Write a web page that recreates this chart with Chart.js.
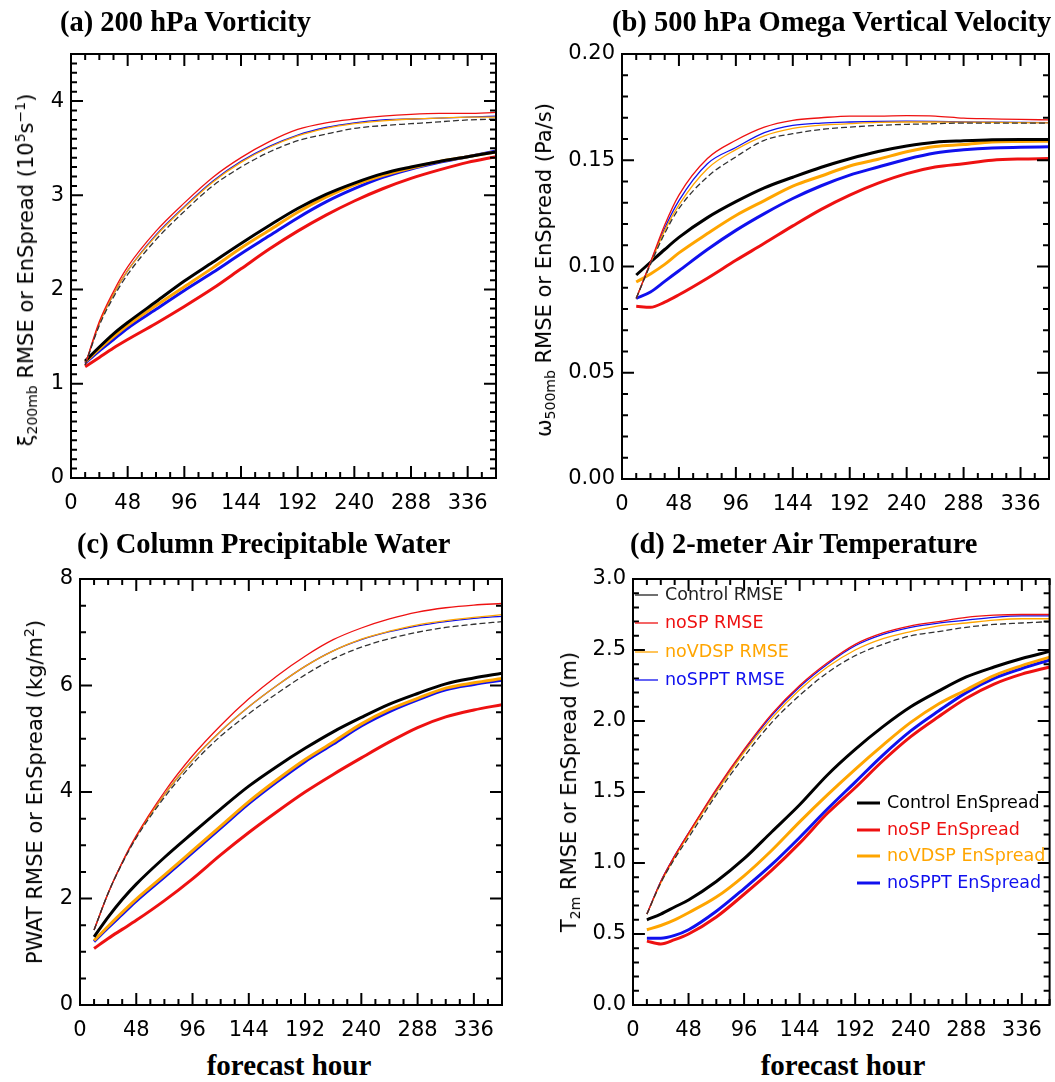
<!DOCTYPE html>
<html>
<head>
<meta charset="utf-8">
<script src="https://cdn.jsdelivr.net/npm/chart.js@4.4.1/dist/chart.umd.min.js"></script>
<style>
  body { margin: 0; background: #fff; width: 1055px; height: 1082px; position: relative; overflow: hidden; }
  canvas { position: absolute; }
  .ptitle { position: absolute; font: bold 28.5px "Liberation Serif", "Times New Roman", serif; line-height: 32px; white-space: nowrap; color: #000; }
  .xtitle { position: absolute; font: bold 29px "Liberation Serif", "Times New Roman", serif; line-height: 32px; white-space: nowrap; transform: translateX(-50%); }
  .ytitle { position: absolute; font: 21px "DejaVu Sans", sans-serif; line-height: 24px; white-space: nowrap; transform: translate(-50%, -50%) rotate(-90deg); }
  .ytitle sub { font-size: 14px; vertical-align: -4px; line-height: 0; }
  .ytitle sup { font-size: 14px; vertical-align: 8px; line-height: 0; }
</style>
</head>
<body>
<script>
// ---- shared axes ----
const hours = [12, 24, 36, 48, 72, 96, 120, 144, 168, 192, 216, 240, 264, 288, 312, 336, 360];
const hourTicks = [0, 48, 96, 144, 192, 240, 288, 336];
const runNames = ['Control', 'noSP', 'noVDSP', 'noSPPT'];
const runColors = ['#000000', '#ee1111', '#ffa500', '#1010ee'];

// ---- (a) 200 hPa vorticity ----
const vortTicks = [0, 1, 2, 3, 4];
const vortRmseControl = [1.20, 1.62, 1.92, 2.16, 2.53, 2.83, 3.10, 3.30, 3.46, 3.58, 3.65, 3.71, 3.74, 3.76, 3.78, 3.80, 3.81];
const vortRmseNoSP    = [1.20, 1.66, 1.98, 2.24, 2.62, 2.92, 3.19, 3.40, 3.57, 3.70, 3.77, 3.81, 3.84, 3.86, 3.87, 3.87, 3.88];
const vortRmseNoVDSP  = [1.20, 1.64, 1.95, 2.20, 2.57, 2.87, 3.14, 3.35, 3.51, 3.63, 3.71, 3.76, 3.79, 3.81, 3.82, 3.83, 3.83];
const vortRmseNoSPPT  = [1.20, 1.64, 1.95, 2.20, 2.58, 2.88, 3.15, 3.36, 3.52, 3.64, 3.72, 3.77, 3.80, 3.81, 3.82, 3.83, 3.84];
const vortSprControl  = [1.24, 1.39, 1.53, 1.65, 1.87, 2.09, 2.29, 2.49, 2.68, 2.86, 3.01, 3.13, 3.23, 3.30, 3.36, 3.41, 3.46];
const vortSprNoSP     = [1.18, 1.28, 1.38, 1.47, 1.64, 1.82, 2.01, 2.22, 2.43, 2.62, 2.79, 2.94, 3.07, 3.18, 3.27, 3.35, 3.41];
const vortSprNoVDSP   = [1.23, 1.37, 1.50, 1.62, 1.83, 2.03, 2.23, 2.44, 2.63, 2.82, 2.98, 3.11, 3.21, 3.29, 3.36, 3.41, 3.46];
const vortSprNoSPPT   = [1.22, 1.35, 1.47, 1.59, 1.79, 1.99, 2.18, 2.38, 2.57, 2.76, 2.93, 3.07, 3.19, 3.28, 3.35, 3.41, 3.47];

// ---- (b) 500 hPa omega ----
const omegaTicks = [0, 0.05, 0.10, 0.15, 0.20];
const omegaRmseControl = [0.085, 0.101, 0.1156, 0.1273, 0.1422, 0.1516, 0.1594, 0.1625, 0.1645, 0.1656, 0.1664, 0.1669, 0.1672, 0.1675, 0.1675, 0.1675, 0.1675];
const omegaRmseNoSP    = [0.085, 0.102, 0.1195, 0.1336, 0.1508, 0.1594, 0.1656, 0.1688, 0.1700, 0.1708, 0.1708, 0.1710, 0.1708, 0.1698, 0.1695, 0.1692, 0.1690];
const omegaRmseNoVDSP  = [0.085, 0.1015, 0.117, 0.129, 0.146, 0.155, 0.1615, 0.165, 0.1665, 0.1672, 0.1678, 0.1680, 0.1680, 0.1679, 0.1678, 0.1677, 0.1676];
const omegaRmseNoSPPT  = [0.085, 0.1018, 0.118, 0.131, 0.1484, 0.156, 0.163, 0.1664, 0.1675, 0.1680, 0.1683, 0.1684, 0.1683, 0.1680, 0.1679, 0.1678, 0.1677];
const omegaSprControl  = [0.096, 0.102, 0.108, 0.1137, 0.123, 0.1305, 0.137, 0.142, 0.1467, 0.1507, 0.1541, 0.1567, 0.1585, 0.1592, 0.1597, 0.1598, 0.1598];
const omegaSprNoSP     = [0.0813, 0.0808, 0.0832, 0.0867, 0.0945, 0.1029, 0.1109, 0.1191, 0.1269, 0.1336, 0.1392, 0.1437, 0.1468, 0.1484, 0.1500, 0.1506, 0.1508];
const omegaSprNoVDSP   = [0.0927, 0.0965, 0.101, 0.1064, 0.1155, 0.124, 0.131, 0.1378, 0.1426, 0.1473, 0.1505, 0.1540, 0.1565, 0.1574, 0.1586, 0.1588, 0.1590];
const omegaSprNoSPPT   = [0.085, 0.088, 0.093, 0.098, 0.108, 0.117, 0.1249, 0.132, 0.138, 0.143, 0.1468, 0.1505, 0.1534, 0.1549, 0.1558, 0.1561, 0.1563];

// ---- (c) column precipitable water ----
const pwatTicks = [0, 2, 4, 6, 8];
const pwatRmseControl = [1.41, 2.10, 2.66, 3.14, 3.90, 4.53, 5.05, 5.47, 5.85, 6.20, 6.50, 6.72, 6.88, 7.00, 7.09, 7.15, 7.20];
const pwatRmseNoSP    = [1.41, 2.10, 2.68, 3.18, 4.00, 4.68, 5.25, 5.75, 6.18, 6.55, 6.86, 7.08, 7.25, 7.38, 7.46, 7.51, 7.54];
const pwatRmseNoVDSP  = [1.41, 2.10, 2.67, 3.16, 3.95, 4.60, 5.14, 5.60, 6.00, 6.36, 6.65, 6.87, 7.02, 7.14, 7.22, 7.28, 7.33];
const pwatRmseNoSPPT  = [1.41, 2.10, 2.67, 3.16, 3.95, 4.60, 5.14, 5.60, 6.00, 6.36, 6.65, 6.86, 7.01, 7.12, 7.20, 7.26, 7.30];
const pwatSprControl  = [1.28, 1.65, 1.98, 2.27, 2.77, 3.23, 3.68, 4.11, 4.48, 4.82, 5.13, 5.40, 5.65, 5.85, 6.03, 6.14, 6.23];
const pwatSprNoSP     = [1.06, 1.25, 1.42, 1.59, 1.96, 2.37, 2.82, 3.24, 3.63, 4.00, 4.33, 4.64, 4.94, 5.21, 5.41, 5.54, 5.64];
const pwatSprNoVDSP   = [1.21, 1.48, 1.74, 1.99, 2.44, 2.90, 3.36, 3.82, 4.23, 4.61, 4.94, 5.28, 5.55, 5.76, 5.95, 6.05, 6.13];
const pwatSprNoSPPT   = [1.19, 1.45, 1.70, 1.95, 2.40, 2.86, 3.32, 3.78, 4.19, 4.57, 4.90, 5.24, 5.51, 5.73, 5.92, 6.02, 6.10];

// ---- (d) 2-meter air temperature ----
const t2mTicks = [0, 0.5, 1.0, 1.5, 2.0, 2.5, 3.0];
const t2mRmseControl = [0.64, 0.86, 1.03, 1.18, 1.48, 1.75, 1.99, 2.18, 2.34, 2.46, 2.54, 2.60, 2.63, 2.66, 2.68, 2.69, 2.70];
const t2mRmseNoSP    = [0.64, 0.87, 1.05, 1.21, 1.52, 1.80, 2.05, 2.25, 2.41, 2.54, 2.62, 2.67, 2.70, 2.73, 2.745, 2.75, 2.75];
const t2mRmseNoVDSP  = [0.64, 0.86, 1.04, 1.20, 1.50, 1.78, 2.02, 2.22, 2.38, 2.50, 2.58, 2.63, 2.67, 2.69, 2.71, 2.72, 2.72];
const t2mRmseNoSPPT  = [0.64, 0.87, 1.05, 1.21, 1.51, 1.79, 2.04, 2.24, 2.40, 2.53, 2.61, 2.66, 2.69, 2.71, 2.73, 2.74, 2.74];
const t2mSprControl  = [0.60, 0.64, 0.69, 0.74, 0.87, 1.03, 1.22, 1.41, 1.62, 1.80, 1.96, 2.10, 2.21, 2.31, 2.38, 2.44, 2.49];
const t2mSprNoSP     = [0.45, 0.43, 0.46, 0.50, 0.62, 0.78, 0.95, 1.14, 1.35, 1.53, 1.72, 1.89, 2.03, 2.16, 2.26, 2.33, 2.38];
const t2mSprNoVDSP   = [0.53, 0.56, 0.60, 0.65, 0.76, 0.91, 1.09, 1.29, 1.48, 1.66, 1.83, 1.99, 2.12, 2.22, 2.32, 2.39, 2.45];
const t2mSprNoSPPT   = [0.47, 0.47, 0.49, 0.53, 0.66, 0.82, 0.99, 1.18, 1.38, 1.57, 1.76, 1.93, 2.07, 2.20, 2.30, 2.37, 2.43];

// ---- layout of the four panels (page pixels) ----
const PANELS = [
  { box: { x: 0,   y: 30,  w: 525, h: 515 }, area: { left: 71,  top: 54,  right: 496,  bottom: 478 },
    yMax: 4.5, yTicks: vortTicks, yMinor: 0.1, yMajor: 1, yDec: 0,
    rmse: [vortRmseControl, vortRmseNoSP, vortRmseNoVDSP, vortRmseNoSPPT],
    spread: [vortSprControl, vortSprNoSP, vortSprNoVDSP, vortSprNoSPPT] },
  { box: { x: 530, y: 30,  w: 525, h: 515 }, area: { left: 622, top: 54,  right: 1049, bottom: 479 },
    yMax: 0.20, yTicks: omegaTicks, yMinor: 0.01, yMajor: 0.05, yDec: 2,
    rmse: [omegaRmseControl, omegaRmseNoSP, omegaRmseNoVDSP, omegaRmseNoSPPT],
    spread: [omegaSprControl, omegaSprNoSP, omegaSprNoVDSP, omegaSprNoSPPT] },
  { box: { x: 0,   y: 555, w: 525, h: 490 }, area: { left: 80,  top: 579, right: 502,  bottom: 1005 },
    yMax: 8, yTicks: pwatTicks, yMinor: 0.5, yMajor: 2, yDec: 0,
    rmse: [pwatRmseControl, pwatRmseNoSP, pwatRmseNoVDSP, pwatRmseNoSPPT],
    spread: [pwatSprControl, pwatSprNoSP, pwatSprNoVDSP, pwatSprNoSPPT] },
  { box: { x: 530, y: 555, w: 525, h: 490 }, area: { left: 633, top: 579, right: 1053, bottom: 1005 },
    yMax: 3.0, yTicks: t2mTicks, yMinor: 0.1, yMajor: 0.5, yDec: 1,
    rmse: [t2mRmseControl, t2mRmseNoSP, t2mRmseNoVDSP, t2mRmseNoSPPT],
    spread: [t2mSprControl, t2mSprNoSP, t2mSprNoVDSP, t2mSprNoSPPT],
    legend: [ { left: 2,   top: 16,  gap: 28.3, items: [0, 1, 2, 3] },
              { left: 224, top: 224, gap: 26.7, items: [4, 5, 6, 7] } ] },
];

const X_MINOR = 12, X_MAJOR = 48, X_MAX = 360;
const TICK_MAJOR_PX = 12, TICK_MINOR_PX = 6;

// frame box around the plot area
function drawBox(chart) {
  const ctx = chart.ctx;
  const a = chart.chartArea;
  ctx.save();
  ctx.setLineDash([]);
  ctx.strokeStyle = '#000';
  ctx.lineWidth = 2;
  ctx.strokeRect(a.left, a.top, a.right - a.left, a.bottom - a.top);
  ctx.restore();
}

// in-panel legend, two groups, drawn from the datasets themselves
function drawLegend(chart, groups) {
  if (!groups) return;
  const ctx = chart.ctx;
  const a = chart.chartArea;
  ctx.save();
  ctx.font = '17.5px "DejaVu Sans", sans-serif';
  ctx.textBaseline = 'middle';
  ctx.setLineDash([]);
  groups.forEach(g => {
    g.items.forEach((di, k) => {
      const ds = chart.data.datasets[di];
      const yy = Math.round(a.top + g.top + k * g.gap);
      ctx.strokeStyle = ds.legendColor;
      ctx.lineWidth = ds.borderWidth;
      ctx.beginPath();
      ctx.moveTo(a.left + g.left, yy);
      ctx.lineTo(a.left + g.left + 23, yy);
      ctx.stroke();
      ctx.fillStyle = ds.legendColor;
      ctx.fillText(ds.label, a.left + g.left + 30, yy);
    });
  });
  ctx.restore();
}

// IDL-style inward ticks on all four sides, drawn by the library as short
// line segments on the panel's own scales (gaps split the segments)
function tickDatasets(p) {
  const H = p.area.bottom - p.area.top;
  const W = p.area.right - p.area.left;
  const xt = [];
  const nx = Math.round(X_MAX / X_MINOR);
  const perX = Math.round(X_MAJOR / X_MINOR);
  for (let i = 0; i <= nx; i++) {
    const v = i * X_MINOR;
    const dy = ((i % perX === 0) ? TICK_MAJOR_PX : TICK_MINOR_PX) / H * p.yMax;
    xt.push({ x: v, y: 0 }, { x: v, y: dy }, { x: v, y: null },
            { x: v, y: p.yMax }, { x: v, y: p.yMax - dy }, { x: v, y: null });
  }
  const yt = [];
  const ny = Math.round(p.yMax / p.yMinor);
  const perY = Math.round(p.yMajor / p.yMinor);
  for (let i = 0; i <= ny; i++) {
    const v = i * p.yMinor;
    const dx = ((i % perY === 0) ? TICK_MAJOR_PX : TICK_MINOR_PX) / W * X_MAX;
    yt.push({ x: 0, y: v }, { x: dx, y: v }, { x: dx, y: null },
            { x: X_MAX, y: v }, { x: X_MAX - dx, y: v }, { x: X_MAX - dx, y: null });
  }
  const style = {
    borderColor: '#000', borderWidth: 2, pointRadius: 0, spanGaps: false,
    cubicInterpolationMode: 'default', tension: 0, borderCapStyle: 'butt',
    clip: false, order: -1,
  };
  return [
    Object.assign({ label: 'x ticks', data: xt, isFrame: true }, style),
    Object.assign({ label: 'y ticks', data: yt, isFrame: true }, style),
  ];
}

function toPoints(vals) {
  return hours.map((h, i) => ({ x: h, y: vals[i] }));
}

function buildDatasets(p) {
  const rmse = p.rmse.map((vals, i) => ({
    label: runNames[i] + ' RMSE',
    data: toPoints(vals),
    borderColor: i === 0 ? '#333333' : runColors[i],
    legendColor: i === 0 ? '#222222' : runColors[i],
    borderWidth: 1.3,
    borderDash: i === 0 ? [6, 3] : [],
  }));
  const spread = p.spread.map((vals, i) => ({
    label: runNames[i] + ' EnSpread',
    data: toPoints(vals),
    borderColor: runColors[i],
    legendColor: runColors[i],
    borderWidth: 3,
  }));
  return rmse.concat(spread, tickDatasets(p));
}

function makePanel(p) {
  const cv = document.createElement('canvas');
  cv.width = p.box.w;
  cv.height = p.box.h;
  cv.style.left = p.box.x + 'px';
  cv.style.top = p.box.y + 'px';
  document.body.appendChild(cv);

  const tickFont = { family: '"DejaVu Sans", sans-serif', size: 21 };

  return new Chart(cv, {
    type: 'line',
    data: { datasets: buildDatasets(p) },
    options: {
      responsive: false,
      animation: false,
      devicePixelRatio: 1,
      layout: { padding: { left: 0, top: p.area.top - p.box.y, right: p.box.x + p.box.w - p.area.right, bottom: 0 } },
      elements: {
        point: { radius: 0 },
        line: { cubicInterpolationMode: 'monotone', fill: false },
      },
      plugins: { legend: { display: false }, tooltip: { enabled: false } },
      scales: {
        x: {
          type: 'linear', min: 0, max: X_MAX,
          grid: { display: false, drawTicks: false },
          border: { display: false },
          afterBuildTicks: s => { s.ticks = hourTicks.map(v => ({ value: v })); },
          afterFit: s => { s.height = p.box.y + p.box.h - p.area.bottom; },
          ticks: { font: tickFont, color: '#000', padding: 13, maxRotation: 0, autoSkip: false },
        },
        y: {
          type: 'linear', min: 0, max: p.yMax,
          grid: { display: false, drawTicks: false },
          border: { display: false },
          afterBuildTicks: s => { s.ticks = p.yTicks.map(v => ({ value: v })); },
          afterFit: s => { s.width = p.area.left - p.box.x; },
          ticks: { font: tickFont, color: '#000', padding: 7, autoSkip: false,
                   callback: v => Number(v).toFixed(p.yDec) },
        },
      },
    },
    plugins: [{
      id: 'panelDecor',
      afterDraw(c) { drawBox(c); drawLegend(c, p.legend); },
    }],
  });
}

PANELS.forEach(makePanel);

// titles and axis labels as page text
document.body.insertAdjacentHTML('beforeend', `
  <div class="ptitle" style="left:60px;top:6px">(a) 200 hPa Vorticity</div>
  <div class="ptitle" style="left:612px;top:6px">(b) 500 hPa Omega Vertical Velocity</div>
  <div class="ptitle" style="left:77px;top:528px">(c) Column Precipitable Water</div>
  <div class="ptitle" style="left:630px;top:528px">(d) 2-meter Air Temperature</div>

  <div class="ytitle" style="left:26px;top:270px">&xi;<sub>200mb</sub> RMSE or EnSpread (10<sup>5</sup>s<sup>&minus;1</sup>)</div>
  <div class="ytitle" style="left:544px;top:270px">&omega;<sub>500mb</sub> RMSE or EnSpread (Pa/s)</div>
  <div class="ytitle" style="left:35px;top:792px">PWAT RMSE or EnSpread (kg/m<sup>2</sup>)</div>
  <div class="ytitle" style="left:569px;top:792px">T<sub>2m</sub> RMSE or EnSpread (m)</div>

  <div class="xtitle" style="left:289px;top:1049px">forecast hour</div>
  <div class="xtitle" style="left:843px;top:1049px">forecast hour</div>
`);
</script>
</body>
</html>
